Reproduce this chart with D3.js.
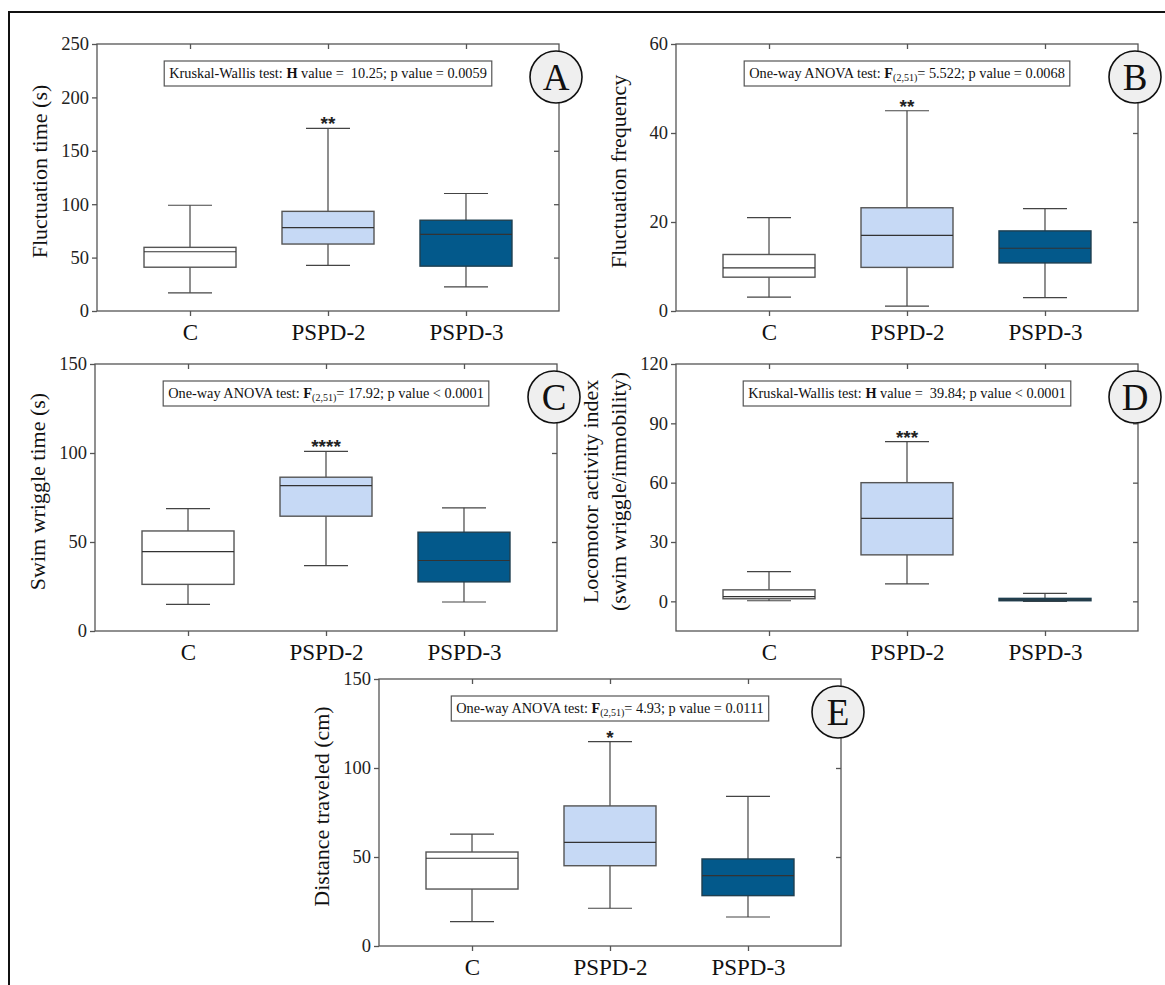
<!DOCTYPE html>
<head>
  <meta charset="utf-8">
  <script src="https://d3js.org/d3.v7.min.js"></script>
  <style>
    body { margin:0; background:white; }
    text { font-family: 'Liberation Serif', serif; white-space: pre; }
  </style>
</head>
<body>
<script>
  // groups on the x axis
  const groups = ['C', 'PSPD-2', 'PSPD-3'];

  // five number summaries [min, q1, median, q3, max] per group
  const statsA = [[17, 41, 55.5, 59.6, 99], [42.8, 62.7, 78, 93.3, 171], [22.5, 42, 71.8, 85, 110]];
  const statsB = [[3.1, 7.6, 9.7, 12.7, 21], [1.1, 9.8, 17, 23.2, 45], [3, 10.8, 14.1, 18, 23]];
  const statsC = [[15, 26.2, 44.6, 56.2, 68.8], [36.7, 64.5, 81.7, 86.4, 100.9], [16.3, 27.6, 39.6, 55.5, 69.2]];
  const statsD = [[0.3, 1.3, 2.4, 5.8, 15], [8.8, 23.5, 41.9, 60, 80.8], [0, 0.3, 0.8, 1.5, 4]];
  const statsE = [[13.7, 32, 49.3, 52.8, 62.9], [21.2, 45.1, 58.2, 78.7, 114.8], [16.3, 28.3, 39.5, 48.9, 84.1]];

  const domains = { A: [0, 250], B: [0, 60], C: [0, 150], D: [-15, 120], E: [0, 150] };
  const tickVals = {
    A: [0, 50, 100, 150, 200, 250],
    B: [0, 20, 40, 60],
    C: [0, 50, 100, 150],
    D: [0, 30, 60, 90, 120],
    E: [0, 50, 100, 150]
  };
  const yTitles = {
    A: ['Fluctuation time (s)'],
    B: ['Fluctuation frequency'],
    C: ['Swim wriggle time (s)'],
    D: ['Locomotor activity index', '(swim wriggle/immobility)'],
    E: ['Distance traveled (cm)']
  };
  const stars = { A: '**', B: '**', C: '****', D: '***', E: '*' };
  // test text: [prefix, bold letter, subscript, rest]
  const tests = {
    A: ['Kruskal-Wallis test: ', 'H', '', ' value =  10.25; p value = 0.0059'],
    B: ['One-way ANOVA test: ', 'F', '(2,51)', '= 5.522; p value = 0.0068'],
    C: ['One-way ANOVA test: ', 'F', '(2,51)', '= 17.92; p value < 0.0001'],
    D: ['Kruskal-Wallis test: ', 'H', '', ' value =  39.84; p value < 0.0001'],
    E: ['One-way ANOVA test: ', 'F', '(2,51)', '= 4.93; p value = 0.0111']
  };
  const statsAll = { A: statsA, B: statsB, C: statsC, D: statsD, E: statsE };

  const fills = ['#ffffff', '#c6d9f5', '#03598b'];

  const W = 1165, H = 985;
  const svg = d3.select('body').append('svg')
    .attr('width', W).attr('height', H);

  // outer frame (right and bottom edges fall outside the picture)
  svg.append('path')
    .attr('d', `M9,${H + 5}V12H${W + 5}`)
    .style('fill', 'none').style('stroke', '#111').style('stroke-width', 2);

  const pw = 462, ph = 267;
  const panels = [
    { key: 'A', x: 97, y: 44 },
    { key: 'B', x: 676, y: 44 },
    { key: 'C', x: 95, y: 364 },
    { key: 'D', x: 676, y: 364 },
    { key: 'E', x: 379, y: 679 }
  ];

  const axisColor = '#555';

  panels.forEach(p => {
    const g = svg.append('g').attr('transform', `translate(${p.x},${p.y})`);
    const x = d3.scalePoint().domain(groups).range([0, pw]).padding(0.674);
    const y = d3.scaleLinear().domain(domains[p.key]).range([ph, 0]);
    const ticks = tickVals[p.key];

    // frame lines of the plot
    g.append('rect').attr('width', pw).attr('height', ph)
      .style('fill', 'none').style('stroke', axisColor).style('stroke-width', 1.3);

    const rightTicks = ticks.filter(t => t > domains[p.key][0] && t < domains[p.key][1] || (p.key === 'D' && t === 0));
    const yAxis = g.append('g').call(d3.axisLeft(y).tickValues(ticks).tickSize(5).tickSizeOuter(0).tickPadding(3));
    const yRight = g.append('g').attr('transform', `translate(${pw},0)`)
      .call(d3.axisRight(y).tickValues(rightTicks).tickSize(-5).tickSizeOuter(0).tickFormat(''));
    const xAxis = g.append('g').attr('transform', `translate(0,${ph})`)
      .call(d3.axisBottom(x).tickSize(5).tickSizeOuter(0).tickPadding(8));
    const xTop = g.append('g')
      .call(d3.axisTop(x).tickSize(-5).tickSizeOuter(0).tickFormat(''));

    [yAxis, yRight, xAxis, xTop].forEach(a => {
      a.select('.domain').remove();
      a.selectAll('line').style('stroke', axisColor).style('stroke-width', 1.3);
    });
    yAxis.selectAll('text').style('font-family', 'Liberation Serif').style('font-size', '18.5px').style('fill', '#222');
    xAxis.selectAll('text').style('font-family', 'Liberation Serif').style('font-size', '23px').style('fill', '#111')
      .attr('dy', '0.68em');

    // y axis title
    const titles = yTitles[p.key];
    titles.forEach((t, i) => {
      const off = titles.length === 1 ? 57 : 85 - i * 28;
      g.append('text')
        .attr('transform', `translate(${-off + 7},${ph / 2 - 6}) rotate(-90)`)
        .attr('text-anchor', 'middle')
        .style('font-size', '22px').style('fill', '#111')
        .text(t);
    });

    // boxes
    const bw = 92, cw = 44;
    const bx = g.selectAll('.box').data(statsAll[p.key]).enter().append('g')
      .attr('transform', (d, i) => `translate(${x(groups[i])},0)`);
    bx.append('line').attr('y1', d => y(d[0])).attr('y2', d => y(d[4]))
      .style('stroke', '#444').style('stroke-width', 1.2);
    bx.append('line').attr('x1', -cw / 2).attr('x2', cw / 2).attr('y1', d => y(d[0])).attr('y2', d => y(d[0]))
      .style('stroke', '#444').style('stroke-width', 1.2);
    bx.append('line').attr('x1', -cw / 2).attr('x2', cw / 2).attr('y1', d => y(d[4])).attr('y2', d => y(d[4]))
      .style('stroke', '#444').style('stroke-width', 1.2);
    bx.append('rect')
      .attr('x', -bw / 2).attr('width', bw)
      .attr('y', d => y(d[3])).attr('height', d => Math.max(1, y(d[1]) - y(d[3])))
      .style('fill', (d, i) => fills[i])
      .style('stroke', (d, i) => i === 2 ? '#1f3f50' : '#555')
      .style('stroke-width', 1.4);
    bx.append('line').attr('x1', -bw / 2).attr('x2', bw / 2).attr('y1', d => y(d[2])).attr('y2', d => y(d[2]))
      .style('stroke', '#333').style('stroke-width', 1.2);

    // significance stars over PSPD-2
    g.append('text')
      .attr('x', x('PSPD-2')).attr('y', y(statsAll[p.key][1][4]) + 2)
      .attr('text-anchor', 'middle')
      .style('font-family', 'Liberation Sans').style('font-weight', 'bold').style('font-size', '19px').style('fill', '#222')
      .text(stars[p.key]);

    // test result box
    const tt = tests[p.key];
    const box = g.append('rect');
    const txt = g.append('text').attr('y', 17 + 17).attr('x', pw / 2).attr('text-anchor', 'middle')
      .style('font-size', '14.3px').style('fill', '#111');
    txt.append('tspan').text(tt[0]);
    txt.append('tspan').style('font-weight', 'bold').text(tt[1]);
    if (tt[2]) txt.append('tspan').attr('dy', 3).style('font-size', '10px').text(tt[2]);
    txt.append('tspan').attr('dy', tt[2] ? -3 : 0).text(tt[3]);
    const bb = txt.node().getBBox();
    box.attr('x', bb.x - 5).attr('width', bb.width + 10)
      .attr('y', 17).attr('height', 25)
      .style('fill', 'white').style('stroke', '#555').style('stroke-width', 1.2);

    // panel letter
    g.append('circle').attr('cx', pw - 3).attr('cy', 33).attr('r', 26)
      .style('fill', '#efefef').style('stroke', '#111').style('stroke-width', 1.6);
    g.append('text').attr('x', pw - 3).attr('y', 33 + 12.5).attr('text-anchor', 'middle')
      .style('font-size', '37px').style('fill', '#111')
      .text(p.key);
  });
</script>
</body>
